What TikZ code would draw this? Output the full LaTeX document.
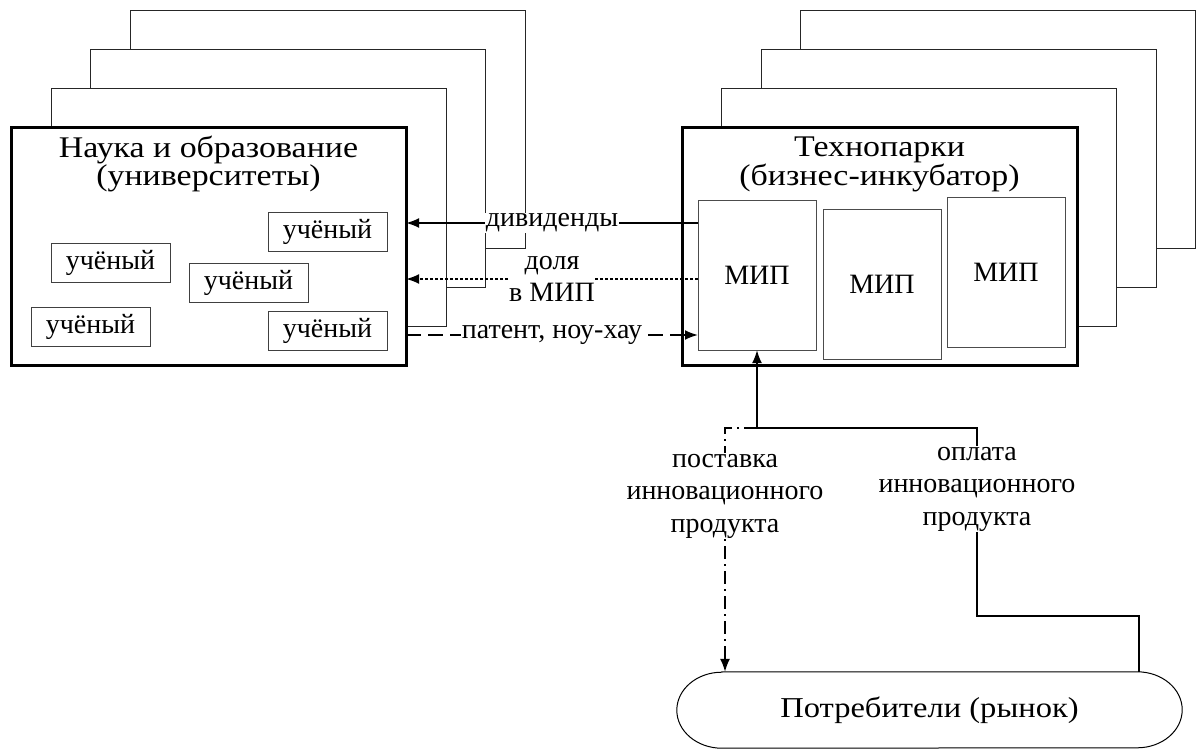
\documentclass[tikz,border=0pt]{standalone}
\usepackage{fontspec}
\setmainfont{Liberation Serif}
\newfontfamily\widefont{Liberation Serif}[FakeStretch=1.13]
\usetikzlibrary{arrows.meta,calc}
\begin{document}
\begin{tikzpicture}[x=1pt,y=-1pt,
  frame/.style={draw=black!85, line width=1pt, fill=white, minimum width=395pt, minimum height=237pt, anchor=north west, inner sep=0pt, outer sep=0pt},
  mainframe/.style={frame, draw=black, line width=3pt},
  small/.style={font=\fontsize{28}{32.5}\selectfont},
  titlefont/.style={font=\widefont\fontsize{30}{27.5}\selectfont},
  person/.style={draw=black!75, line width=1pt, fill=white, minimum width=119pt, minimum height=39pt, inner sep=0pt, outer sep=0pt, anchor=north west, small},
  mip/.style={draw=black!70, line width=1pt, fill=white, minimum width=118pt, minimum height=150pt, inner sep=0pt, outer sep=0pt, anchor=north west, small},
  lbl/.style={fill=white, inner xsep=0.5pt, inner ysep=1pt, align=center, small},
  conn/.style={line width=2pt},
  dd/.style={line width=1.6pt, dash pattern=on 13pt off 5pt on 2pt off 5pt},
  tip/.style={-{Latex[length=13pt,width=10pt]}},
]
\useasboundingbox (0,0) rectangle (1196,749);
% left stack
\node[frame] (L3) at (130,11) {};
\node[frame] (L2) at (90,50) {};
\node[frame] (L1) at (51,89) {};
\node[mainframe] (L0) at (11,128) {};
\node[titlefont, align=center] (Ltitle) at (208.5,164) {Наука и образование\\(университеты)};
\node[person] (u1) at (268,212) {учёный};
\node[person] (u2) at (51,243) {учёный};
\node[person] (u3) at (189,263) {учёный};
\node[person] (u4) at (31,307) {учёный};
\node[person] (u5) at (268,311) {учёный};
% right stack
\node[frame] (R3) at (800,11) {};
\node[frame] (R2) at (761,50) {};
\node[frame] (R1) at (721,89) {};
\node[mainframe] (R0) at (682,128) {};
\node[titlefont, align=center] (Rtitle) at (879.5,164) {Технопарки\\(бизнес-инкубатор)};
\node[mip] (mip1) at (698,200) {МИП};
\node[mip] (mip2) at (823,209) {МИП};
\node[mip] (mip3) at (947,197) {МИП};
% consumers
\node[font=\widefont\fontsize{28.8}{34}\selectfont, minimum width=505pt, minimum height=76pt, inner sep=0pt] (cons) at (929.5,710) {Потребители (рынок)};
\draw[line width=1pt] ($(cons.north west)+(45,0)$) -- ($(cons.north east)+(-45,0)$)
  arc[start angle=-90, end angle=90, x radius=45, y radius=38]
  -- ($(cons.south west)+(45,0)$)
  arc[start angle=90, end angle=270, x radius=45, y radius=38] -- cycle;
% connectors between stacks
\coordinate (yd) at (0,223);
\coordinate (ys) at (0,279);
\coordinate (yp) at (0,335);
\draw[conn,tip] (mip1.west |- yd) -- node[lbl]{дивиденды} (L0.east |- yd);
\draw[conn,tip,dash pattern=on 3pt off 2pt] (mip1.west |- ys) -- node[lbl]{доля\\в МИП} (L0.east |- ys);
\draw[conn,tip,dash pattern=on 15pt off 7pt] (L0.east |- yp) -- node[lbl]{патент, ноу-хау} (mip1.west |- yp);
% bottom connectors
\coordinate (p1) at (1139,616);
\coordinate (p2) at (977,616);
\coordinate (p3) at (977,428);
\coordinate (p4) at (725,428);
\draw[conn,tip] (cons.north -| p1) -- (p1) -- (p2) -- node[lbl,pos=0.675]{оплата\\инновационного\\продукта} (p3) -- (p3 -| mip1.south) -- (mip1.south);
\draw[dd,tip] (p3 -| mip1.south) -- (p4) -- node[lbl,pos=0.28]{поставка\\инновационного\\продукта} (cons.north -| p4);
\end{tikzpicture}
\end{document}
